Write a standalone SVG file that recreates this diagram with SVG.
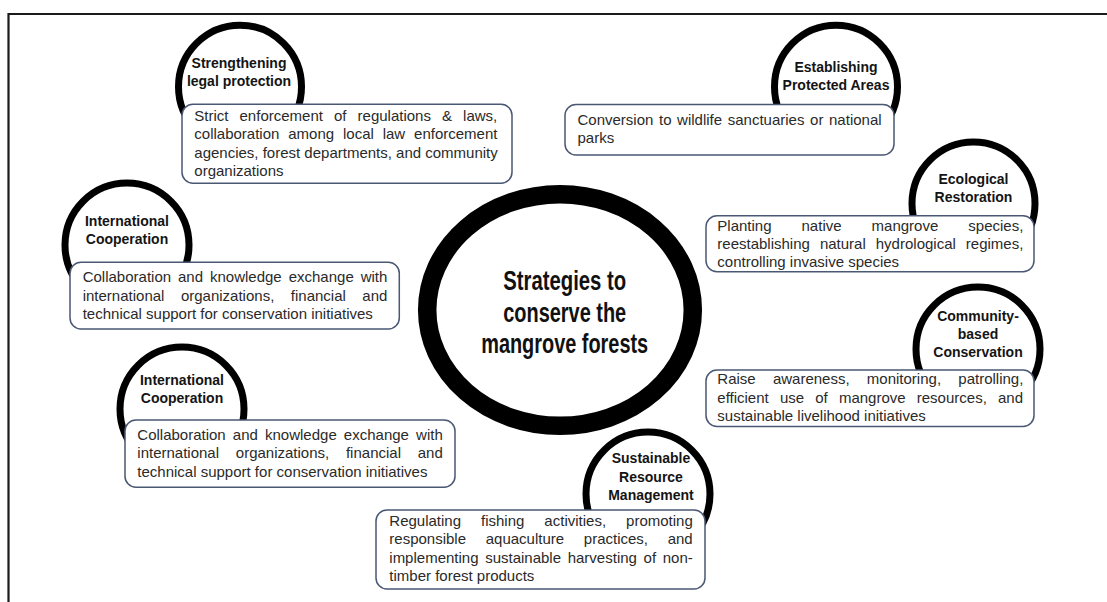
<svg xmlns="http://www.w3.org/2000/svg" width="1107" height="602" viewBox="0 0 1107 602">
  <style>
    .frame { stroke: #1a1a1a; stroke-width: 2.2; fill: none; }
    .hub { fill: #ffffff; stroke: #000000; stroke-width: 18.5; }
    .ring { fill: #ffffff; stroke: #000000; stroke-width: 7; }
    .card { fill: #ffffff; stroke: #4a5874; stroke-width: 1.5; }
    .title { font-family: "Liberation Sans", Arial, sans-serif; font-weight: bold; font-size: 27px; fill: #111111; text-anchor: middle; }
    .label { font-family: "Liberation Sans", Arial, sans-serif; font-weight: bold; font-size: 14px; fill: #141414; text-anchor: middle; }
    .body { font-family: "Liberation Sans", Arial, sans-serif; font-size: 15px; fill: #2a2a2a; }
  </style>

  <rect width="1107" height="602" fill="#ffffff"/>

  <!-- page frame: top and left rules -->
  <path class="frame" d="M8.5 14 H1107 M8.5 13 V602"/>

  <g id="connectors"></g>

  <!-- central topic -->
  <g id="hub">
    <ellipse class="hub" cx="560" cy="310" rx="132.8" ry="115.8"/>
    <text class="title" x="564.7" y="290" textLength="123" lengthAdjust="spacingAndGlyphs">Strategies to</text>
    <text class="title" x="564.7" y="321.5" textLength="123" lengthAdjust="spacingAndGlyphs">conserve the</text>
    <text class="title" x="564.7" y="352.7" textLength="167" lengthAdjust="spacingAndGlyphs">mangrove forests</text>
  </g>

  <!-- Strengthening legal protection -->
  <g id="legal-protection">
    <circle class="ring" cx="240" cy="86.7" r="61.5"/>
    <text class="label" x="239" y="68.3">Strengthening</text>
    <text class="label" x="239" y="86.3">legal protection</text>
    <rect class="card" x="182" y="104.3" width="330" height="79" rx="11"/>
    <text class="body" x="194.3" y="121" style="word-spacing:6.9px">Strict enforcement of regulations &amp; laws,</text>
    <text class="body" x="194.3" y="139.4" style="word-spacing:4.7px">collaboration among local law enforcement</text>
    <text class="body" x="194.3" y="157.8" style="word-spacing:0px">agencies, forest departments, and community</text>
    <text class="body" x="194.3" y="176.2">organizations</text>
  </g>

  <!-- Establishing Protected Areas -->
  <g id="protected-areas">
    <circle class="ring" cx="836" cy="86.7" r="61.5"/>
    <text class="label" x="836" y="71.7">Establishing</text>
    <text class="label" x="836" y="89.5">Protected Areas</text>
    <rect class="card" x="565" y="104.5" width="329" height="50.5" rx="11"/>
    <text class="body" x="577.5" y="125" style="word-spacing:1.45px">Conversion to wildlife sanctuaries or national</text>
    <text class="body" x="577.5" y="143.4">parks</text>
  </g>

  <!-- Ecological Restoration -->
  <g id="ecological-restoration">
    <circle class="ring" cx="973.5" cy="203.5" r="61.5"/>
    <text class="label" x="973.5" y="184">Ecological</text>
    <text class="label" x="973.5" y="201.7">Restoration</text>
    <rect class="card" x="706" y="215.7" width="328" height="56" rx="11"/>
    <text class="body" x="717.3" y="231" style="word-spacing:25.86px">Planting native mangrove species,</text>
    <text class="body" x="717.3" y="249.3" style="word-spacing:5.86px">reestablishing natural hydrological regimes,</text>
    <text class="body" x="717.3" y="267.3">controlling invasive species</text>
  </g>

  <!-- Community-based Conservation -->
  <g id="community-conservation">
    <circle class="ring" cx="978" cy="349" r="62"/>
    <text class="label" x="978" y="320.7">Community-</text>
    <text class="label" x="978" y="339">based</text>
    <text class="label" x="978" y="357.3">Conservation</text>
    <rect class="card" x="706" y="370" width="328" height="56.5" rx="11"/>
    <text class="body" x="717.3" y="384.4" style="word-spacing:13.08px">Raise awareness, monitoring, patrolling,</text>
    <text class="body" x="717.3" y="402.7" style="word-spacing:7px">efficient use of mangrove resources, and</text>
    <text class="body" x="717.3" y="420.8">sustainable livelihood initiatives</text>
  </g>

  <!-- International Cooperation (upper) -->
  <g id="international-cooperation-1">
    <circle class="ring" cx="127" cy="245" r="62"/>
    <text class="label" x="127" y="226">International</text>
    <text class="label" x="127" y="244.3">Cooperation</text>
    <rect class="card" x="70" y="262.3" width="329.3" height="66.7" rx="11"/>
    <text class="body" x="82.7" y="282.3" style="word-spacing:2.78px">Collaboration and knowledge exchange with</text>
    <text class="body" x="82.7" y="300.7" style="word-spacing:12.33px">international organizations, financial and</text>
    <text class="body" x="82.7" y="319">technical support for conservation initiatives</text>
  </g>

  <!-- International Cooperation (lower) -->
  <g id="international-cooperation-2">
    <circle class="ring" cx="182" cy="409" r="62"/>
    <text class="label" x="182" y="385">International</text>
    <text class="label" x="182" y="403.3">Cooperation</text>
    <rect class="card" x="125" y="420" width="330" height="67.3" rx="11"/>
    <text class="body" x="137.3" y="440" style="word-spacing:2.98px">Collaboration and knowledge exchange with</text>
    <text class="body" x="137.3" y="458.3" style="word-spacing:12.6px">international organizations, financial and</text>
    <text class="body" x="137.3" y="476.7">technical support for conservation initiatives</text>
  </g>

  <!-- Sustainable Resource Management -->
  <g id="resource-management">
    <circle class="ring" cx="648" cy="494" r="62"/>
    <text class="label" x="651" y="463.3">Sustainable</text>
    <text class="label" x="651" y="482">Resource</text>
    <text class="label" x="651" y="500">Management</text>
    <rect class="card" x="376" y="510" width="329" height="79" rx="11"/>
    <text class="body" x="389.3" y="526" style="word-spacing:15.83px">Regulating fishing activities, promoting</text>
    <text class="body" x="389.3" y="544.3" style="word-spacing:15.53px">responsible aquaculture practices, and</text>
    <text class="body" x="389.3" y="562.7" style="word-spacing:2.48px">implementing sustainable harvesting of non-</text>
    <text class="body" x="389.3" y="581">timber forest products</text>
  </g>
</svg>
